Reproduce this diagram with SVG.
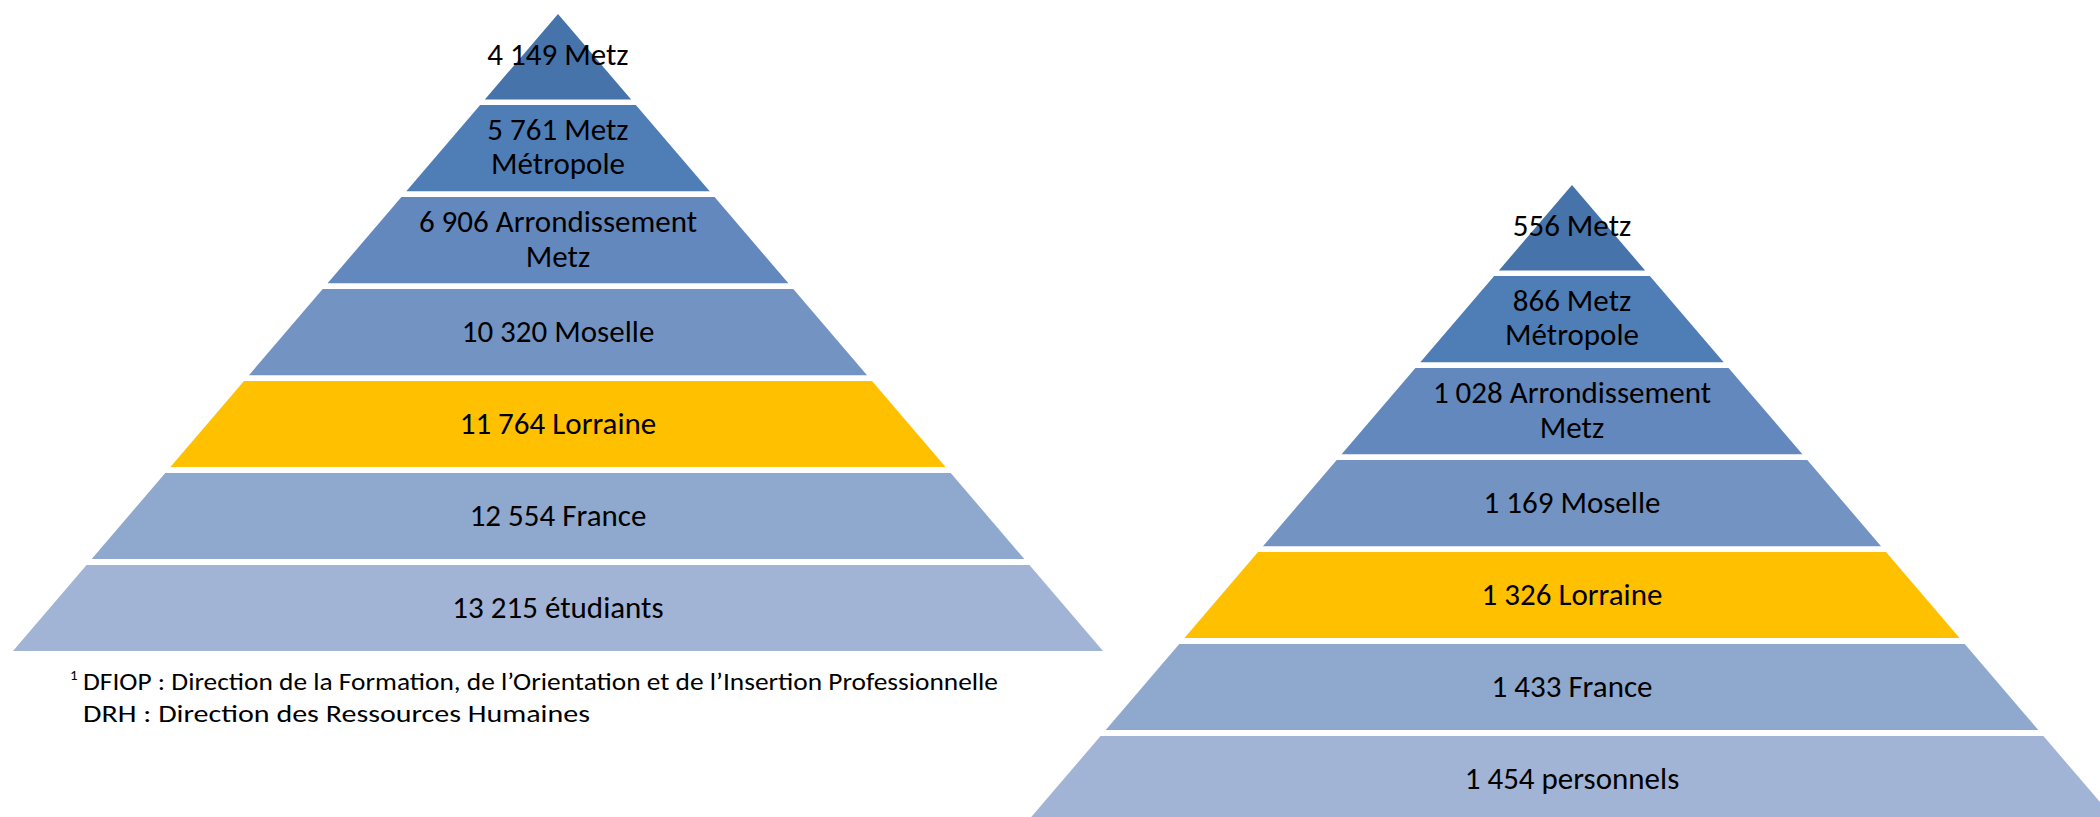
<svg xmlns="http://www.w3.org/2000/svg" xmlns:xlink="http://www.w3.org/1999/xlink" width="2100" height="817" viewBox="0 0 2100 817">
  <style>
    .lbl { font-family: Carlito, Calibri, Lato, "Liberation Sans", sans-serif; font-size: 31px; fill: #000; text-anchor: middle; }
    .note { font-family: Carlito, Calibri, Lato, "Liberation Sans", sans-serif; font-size: 25px; fill: #000; }
    .sup { font-family: Carlito, Calibri, Lato, "Liberation Sans", sans-serif; font-size: 15px; fill: #000; }
    .c1 { fill: #4673A9; }
    .c2 { fill: #4F7EB7; }
    .c3 { fill: #6288BD; }
    .c4 { fill: #7394C3; }
    .c5 { fill: #FFC000; }
    .c6 { fill: #8EA8CE; }
    .c7 { fill: #A1B4D6; }
  </style>
  <defs>
    <!-- pyramid tiers, apex at (558,14), tier pitch ~92 px -->
    <polygon id="t1" points="558,14 631.15,99.5 484.85,99.5"/>
    <polygon id="t2" points="480.14,105 635.86,105 709.70,191.3 406.30,191.3"/>
    <polygon id="t3" points="401.43,197 714.57,197 788.41,283.3 327.59,283.3"/>
    <polygon id="t4" points="322.71,289 793.29,289 867.04,375.2 248.96,375.2"/>
    <polygon id="t5" points="243.99,381 872.01,381 945.59,467 170.41,467"/>
    <polygon id="t6" points="165.28,473 950.72,473 1024.30,559 91.70,559"/>
    <polygon id="t7" points="86.56,565 1029.44,565 1103.02,651 12.98,651"/>
  </defs>

  <rect width="2100" height="817" fill="#fff"/>

  <!-- students pyramid -->
  <g id="students">
    <g id="s-metz"><use href="#t1" class="c1"/><text class="lbl" x="558" y="65">4 149 Metz</text></g>
    <g id="s-metropole"><use href="#t2" class="c2"/><text class="lbl" x="558" y="140">5 761 Metz</text><text class="lbl" x="558" y="174">Métropole</text></g>
    <g id="s-arrondissement"><use href="#t3" class="c3"/><text class="lbl" x="558" y="232">6 906 Arrondissement</text><text class="lbl" x="558" y="267">Metz</text></g>
    <g id="s-moselle"><use href="#t4" class="c4"/><text class="lbl" x="558" y="342">10 320 Moselle</text></g>
    <g id="s-lorraine"><use href="#t5" class="c5"/><text class="lbl" x="558" y="434">11 764 Lorraine</text></g>
    <g id="s-france"><use href="#t6" class="c6"/><text class="lbl" x="558" y="526">12 554 France</text></g>
    <g id="s-total"><use href="#t7" class="c7"/><text class="lbl" x="558" y="618">13 215 étudiants</text></g>
  </g>

  <!-- footnote -->
  <g id="footnote">
    <text class="sup" x="70" y="680">1</text>
    <text class="note" x="83" y="690" textLength="915" lengthAdjust="spacingAndGlyphs">DFIOP : Direction de la Formation, de l’Orientation et de l’Insertion Professionnelle</text>
    <text class="note" x="83" y="722" textLength="507" lengthAdjust="spacingAndGlyphs">DRH : Direction des Ressources Humaines</text>
  </g>

  <!-- staff pyramid -->
  <g id="staff" transform="translate(1014,171)">
    <g id="p-metz"><use href="#t1" class="c1"/><text class="lbl" x="558" y="65">556 Metz</text></g>
    <g id="p-metropole"><use href="#t2" class="c2"/><text class="lbl" x="558" y="140">866 Metz</text><text class="lbl" x="558" y="174">Métropole</text></g>
    <g id="p-arrondissement"><use href="#t3" class="c3"/><text class="lbl" x="558" y="232">1 028 Arrondissement</text><text class="lbl" x="558" y="267">Metz</text></g>
    <g id="p-moselle"><use href="#t4" class="c4"/><text class="lbl" x="558" y="342">1 169 Moselle</text></g>
    <g id="p-lorraine"><use href="#t5" class="c5"/><text class="lbl" x="558" y="434">1 326 Lorraine</text></g>
    <g id="p-france"><use href="#t6" class="c6"/><text class="lbl" x="558" y="526">1 433 France</text></g>
    <g id="p-total"><use href="#t7" class="c7"/><text class="lbl" x="558" y="618">1 454 personnels</text></g>
  </g>
</svg>
